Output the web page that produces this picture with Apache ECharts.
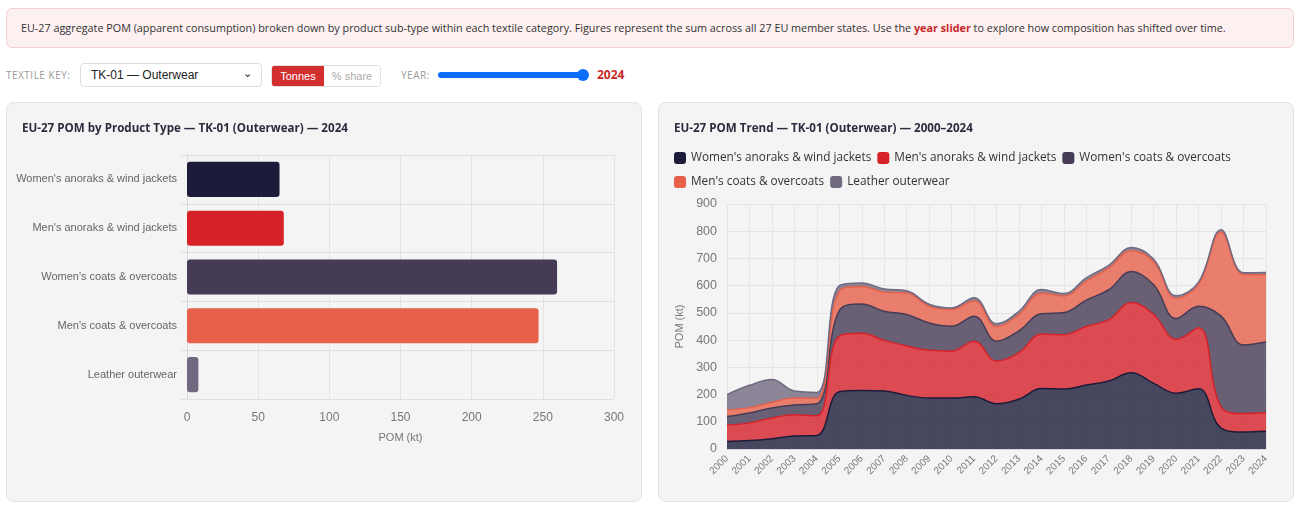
<!DOCTYPE html>
<html>
<head>
<meta charset="utf-8">
<title>EU-27 POM by product type</title>
<script src="https://cdn.jsdelivr.net/npm/echarts@6/dist/echarts.min.js"></script>
<style>
  body { margin: 0; background: #fff; font-family: "Open Sans", "Noto Sans", sans-serif; }
  .banner {
    position: absolute; left: 6px; top: 8px; width: 1288px; height: 40px; box-sizing: border-box;
    background: #fdf0f0; border: 1px solid #f3cfcf; border-radius: 6px;
    font-size: 10.8px; color: #333; line-height: 38px; padding-left: 14px; white-space: nowrap;
  }
  .banner b { color: #c62828; }
  .controls { position: absolute; left: 6px; top: 63px; width: 700px; height: 24px; font-size: 12px; white-space: nowrap; }
  .lbl { position: absolute; top: 5px; font-size: 10px; color: #999; letter-spacing: 0.5px; }
  .sel {
    position: absolute; left: 74px; top: 0; width: 182px; height: 24px; box-sizing: border-box;
    border: 1px solid #ddd; border-radius: 4px; background: #fff; font-size: 12px; color: #222;
    line-height: 22px; padding-left: 10px; font-family: "Liberation Sans", Arial, sans-serif;
  }
  .sel span { position: absolute; right: 9px; top: -2px; font-size: 11px; }
  .tog { position: absolute; left: 265px; top: 2px; height: 20px; border: 1px solid #e2e2e2; border-radius: 3px; overflow: hidden; display: flex; font-family: "Liberation Sans", Arial, sans-serif; font-size: 11px; }
  .tog div { line-height: 20px; text-align: center; }
  .tog .on { background: #d32f2f; color: #fff; width: 52px; }
  .tog .off { background: #fff; color: #aaa; width: 56px; }
  .slider { position: absolute; left: 432px; top: 9px; width: 148px; height: 6px; background: #0d6efd; border-radius: 3px; }
  .thumb { position: absolute; left: 571px; top: 6px; width: 12px; height: 12px; background: #0d6efd; border-radius: 50%; }
  .yr { position: absolute; left: 591px; top: 3px; color: #c62828; font-weight: bold; font-size: 12px; }
  .panel { position: absolute; top: 102px; height: 400px; background: #f4f4f4; border: 1px solid #e4e4e4; border-radius: 8px; box-sizing: border-box; }
  .chart { position: absolute; left: 0; top: 0; width: 100%; height: 100%; }
</style>
</head>
<body>
<div class="banner">EU-27 aggregate POM (apparent consumption) broken down by product sub-type within each textile category. Figures represent the sum across all 27 EU member states. Use the <b>year slider</b> to explore how composition has shifted over time.</div>
<div class="controls">
  <div class="lbl" style="left:0">TEXTILE KEY:</div>
  <div class="sel">TK-01 — Outerwear<span>&#8964;</span></div>
  <div class="tog"><div class="on">Tonnes</div><div class="off">% share</div></div>
  <div class="lbl" style="left:395px">YEAR:</div>
  <div class="slider"></div>
  <div class="thumb"></div>
  <div class="yr">2024</div>
</div>
<div class="panel" style="left:6px; width:636px;"><div id="bar" class="chart"></div></div>
<div class="panel" style="left:658px; width:636px;"><div id="area" class="chart"></div></div>
<script>
// product sub-types and their colours
const products = [
  "Women's anoraks & wind jackets",
  "Men's anoraks & wind jackets",
  "Women's coats & overcoats",
  "Men's coats & overcoats",
  "Leather outerwear"
];
const colors = ['#1c1c3a', '#d62129', '#463b56', '#e6604a', '#706980'];

const years = ['2000','2001','2002','2003','2004','2005','2006','2007','2008','2009','2010','2011','2012',
  '2013','2014','2015','2016','2017','2018','2019','2020','2021','2022','2023','2024'];

// EU-27 POM in kt, one array per sub-type
const womenAnoraks = [28, 31, 38, 48, 50, 210, 215, 213, 197, 187, 187, 192, 166, 183, 222, 220, 235, 250, 280, 241, 205, 221, 77, 62, 65];
const menAnoraks   = [60, 65, 76, 78, 72, 205, 210, 186, 181, 176, 173, 204, 157, 171, 200, 200, 215, 225, 258, 253, 198, 224, 78, 68, 68];
const womenCoats   = [31, 36, 37, 36, 44, 93, 108, 107, 116, 100, 91, 92, 73, 80, 75, 81, 97, 110, 114, 109, 76, 79, 333, 252, 260];
const menCoats     = [24, 20, 20, 25, 20, 71, 64, 70, 79, 61, 61, 56, 54, 60, 75, 61, 70, 80, 76, 85, 75, 81, 309, 259, 247];
const leather      = [57, 82, 84, 26, 22, 21, 13, 12, 8, 8, 6, 12, 10, 12, 14, 9, 12, 10, 12, 9, 9, 8, 8, 6, 8];
const seriesData = [womenAnoraks, menAnoraks, womenCoats, menCoats, leather];

// values shown in the bar chart (selected year)
const selectedYear = '2024';
const yearIdx = years.indexOf(selectedYear);
const barValues = seriesData.map(arr => arr[yearIdx]);

const axisFont = '"Liberation Sans", Arial, sans-serif';
const titleStyle = { fontSize: 11.6, fontWeight: 'bold', color: '#2b2b3d', fontFamily: '"Open Sans", sans-serif' };
const gridLine = { lineStyle: { color: '#e3e3e3' } };

const barChart = echarts.init(document.getElementById('bar'));
barChart.setOption({
  animation: false,
  title: { text: 'EU-27 POM by Product Type — TK-01 (Outerwear) — ' + selectedYear, left: 10, top: 15, textStyle: titleStyle },
  grid: { left: 180, right: 27, top: 52, bottom: 102 },
  xAxis: {
    type: 'value', min: 0, max: 300, interval: 50,
    name: 'POM (kt)', nameLocation: 'middle', nameGap: 33,
    nameTextStyle: { color: '#777', fontSize: 11, fontFamily: axisFont },
    axisLine: { show: false }, axisTick: { show: false },
    axisLabel: { color: '#777', fontSize: 12, fontFamily: axisFont, margin: 13 },
    splitLine: gridLine
  },
  yAxis: {
    type: 'category', data: products, inverse: true,
    axisLine: { lineStyle: { color: '#d8d8d8' } },
    axisTick: { show: true, length: 6, lineStyle: { color: '#e0e0e0' } },
    axisLabel: { color: '#666', fontSize: 11, fontFamily: axisFont, margin: 10 },
    splitLine: { show: true, lineStyle: { color: '#e0e0e0' } }
  },
  series: [{
    type: 'bar', barWidth: '72%',
    data: barValues.map((v, i) => ({ value: v, itemStyle: { color: colors[i], borderRadius: 3 } }))
  }]
});

const areaChart = echarts.init(document.getElementById('area'));
areaChart.setOption({
  animation: false,
  title: { text: 'EU-27 POM Trend — TK-01 (Outerwear) — ' + years[0] + '–' + years[years.length - 1], left: 10, top: 15, textStyle: titleStyle },
  legend: {
    left: 10, top: 41, width: 580, itemWidth: 12, itemHeight: 12, itemGap: 6,
    icon: 'roundRect',
    textStyle: { fontSize: 11.8, color: '#333', lineHeight: 18, fontFamily: '"Open Sans", sans-serif' }
  },
  grid: { left: 68, right: 27, top: 101, bottom: 52 },
  xAxis: {
    type: 'category', data: years, boundaryGap: false,
    axisLine: { lineStyle: { color: '#d8d8d8' } },
    axisTick: { show: false },
    axisLabel: { color: '#777', fontSize: 10, rotate: 45, interval: 0, fontFamily: axisFont, margin: 8 },
    splitLine: { show: true, lineStyle: { color: '#e6e6e6' } }
  },
  yAxis: {
    type: 'value', min: 0, max: 900, interval: 100,
    name: 'POM (kt)', nameLocation: 'middle', nameGap: 40,
    nameTextStyle: { color: '#777', fontSize: 11, fontFamily: axisFont },
    axisLabel: { color: '#777', fontSize: 12.5, fontFamily: axisFont, margin: 10 },
    splitLine: gridLine
  },
  series: products.map((name, i) => ({
    name: name, type: 'line', stack: 'total', smooth: 0.4, symbol: 'none',
    data: seriesData[i],
    itemStyle: { color: colors[i] },
    lineStyle: { width: 1.5, color: colors[i] },
    areaStyle: { color: colors[i], opacity: 0.8 }
  }))
});
</script>
</body>
</html>
